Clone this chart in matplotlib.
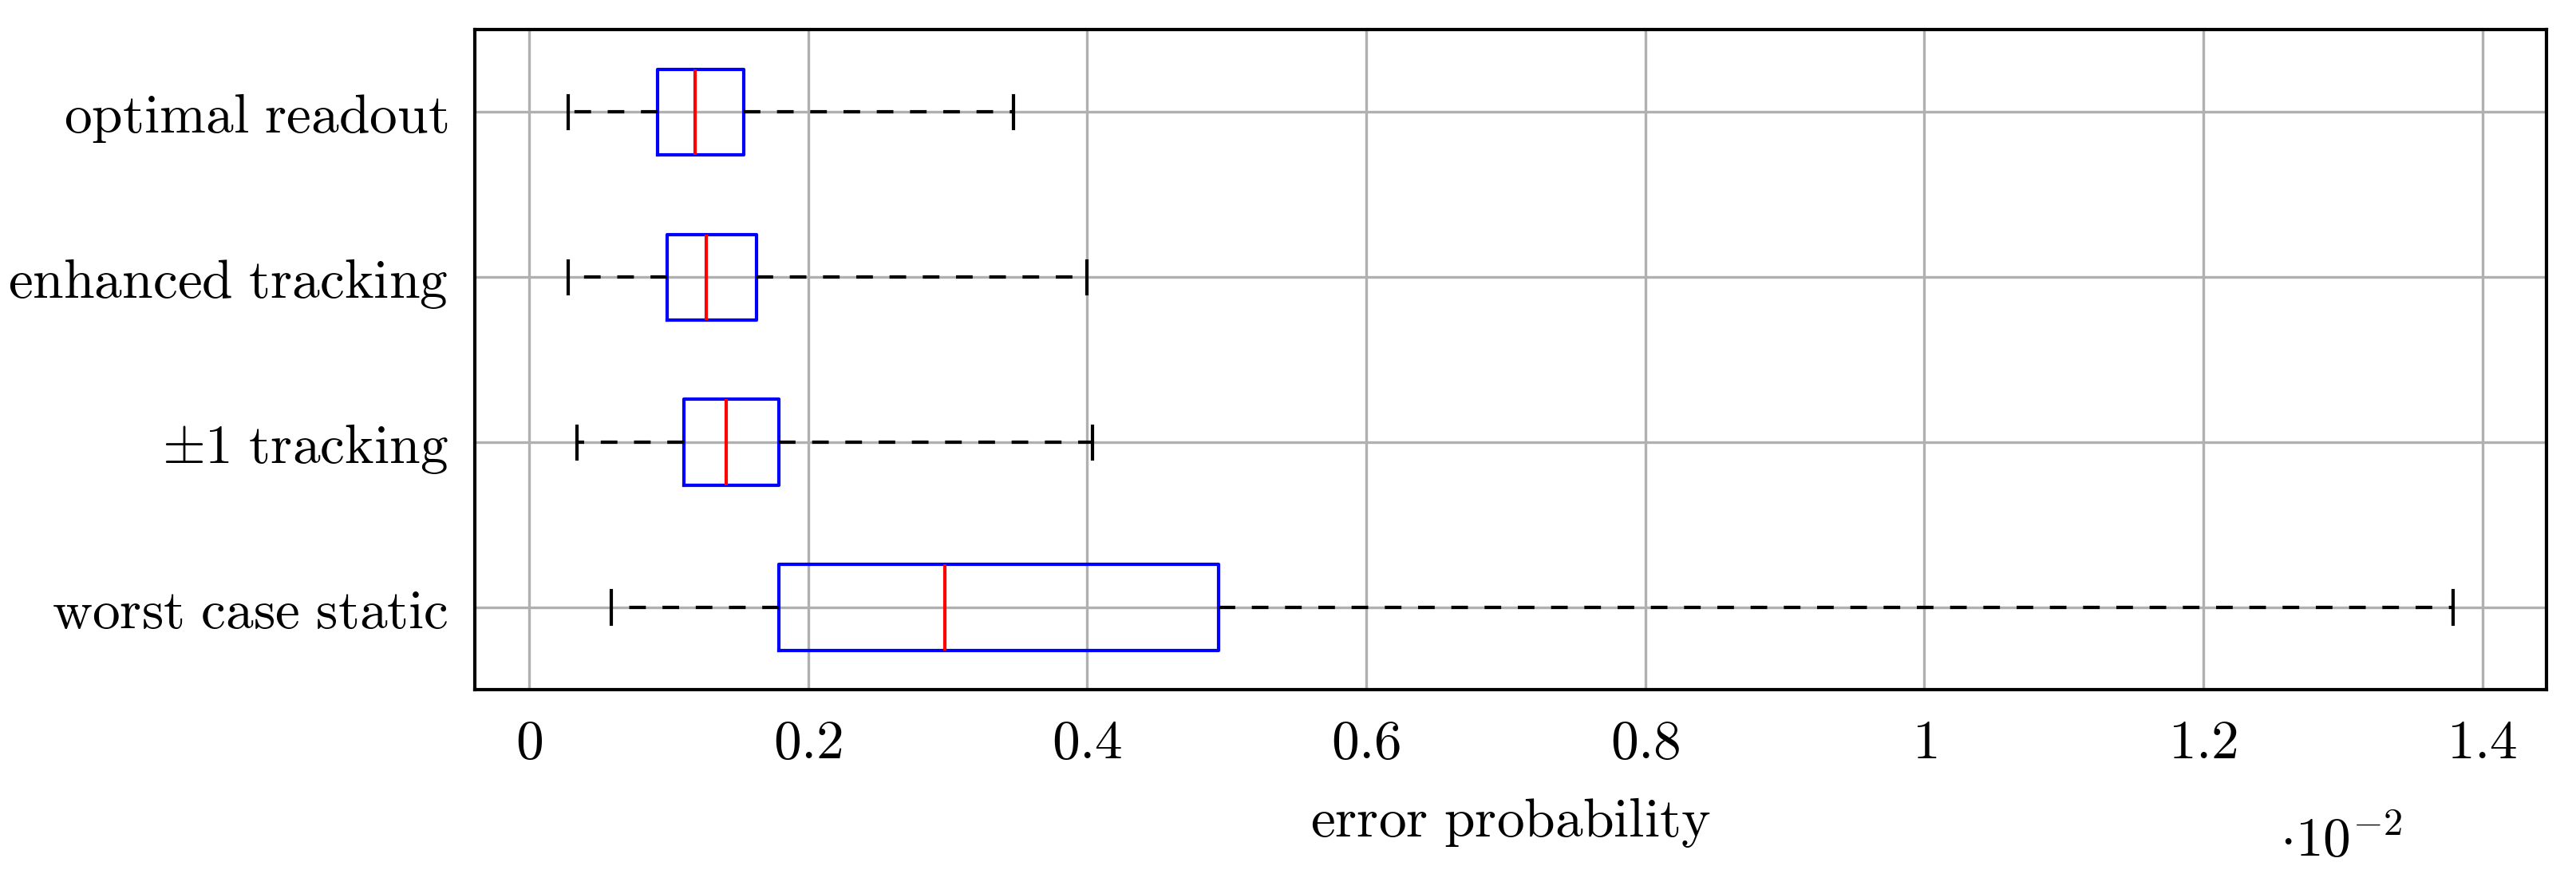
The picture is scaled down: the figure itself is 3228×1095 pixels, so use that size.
import matplotlib
matplotlib.use('Agg')
import matplotlib.pyplot as plt

plt.rcParams['mathtext.fontset'] = 'cm'
plt.rcParams['font.family'] = 'serif'
plt.rcParams['font.serif'] = ['DejaVu Serif']

# values in units of 1e-2
labels = ['worst case static', r'$\pm$1 tracking', 'enhanced tracking', 'optimal readout']
whislo = [0.059, 0.034, 0.028, 0.028]
q1 = [0.179, 0.111, 0.099, 0.092]
med = [0.298, 0.141, 0.127, 0.119]
q3 = [0.494, 0.179, 0.163, 0.154]
whishi = [1.379, 0.404, 0.400, 0.347]

stats = []
for i in range(len(labels)):
    stats.append(dict(whislo=whislo[i], q1=q1[i], med=med[i], q3=q3[i], whishi=whishi[i], fliers=[]))

fig = plt.figure(figsize=(16.14, 5.475), dpi=200)
ax = fig.add_axes([289 / 1568, 1 - 420 / 532, (1550 - 289) / 1568, (420 - 18) / 532])
ax.grid(True, color='#b0b0b0', linewidth=1.2)
ax.set_axisbelow(True)
ax.bxp(stats, positions=[1, 2, 3, 4], vert=False, widths=0.52, showfliers=False,
       boxprops=dict(color='blue', linewidth=1.5),
       medianprops=dict(color='red', linewidth=1.5),
       whiskerprops=dict(color='black', linestyle=(0, (5, 5)), linewidth=1.5),
       capprops=dict(color='black', linewidth=1.5), capwidths=0.2)

ax.set_xlim(-0.039, 1.446)
ax.set_ylim(0.5, 4.5)
ticks = [0, 0.2, 0.4, 0.6, 0.8, 1, 1.2, 1.4]
ax.set_xticks(ticks)
ax.set_xticklabels(['$%g$' % t for t in ticks], fontsize=25)
ax.set_yticks([1, 2, 3, 4])
ax.set_yticklabels([r'$\mathrm{%s}$' % l.replace(' ', r'\ ') if '$' not in l else r'$\pm 1\ \mathrm{tracking}$' for l in labels], fontsize=25)
ax.tick_params(length=0, pad=12)
for s in ax.spines.values():
    s.set_linewidth(1.5)
ax.set_xlabel(r'$\mathrm{error\ probability}$', fontsize=25, labelpad=12)
fig.text(1425 / 1568, 1 - 512 / 532, r'$\cdot 10^{-2}$', fontsize=25, ha='center', va='center')

fig.savefig('out.png')
